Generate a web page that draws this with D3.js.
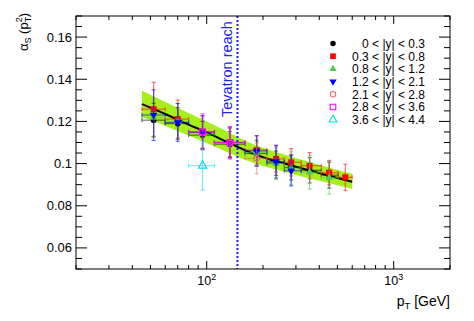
<!DOCTYPE html>
<html>
<head>
<meta charset="utf-8">
<script src="https://cdn.jsdelivr.net/npm/d3@7"></script>
<style>
  body { margin: 0; background: #fff; }
  text { font-family: "Liberation Sans", Arial, Helvetica, sans-serif; }
</style>
</head>
<body>
<div id="chart-div"></div>
<script>
// pT bins (GeV)
const binLow    = [45, 60, 80, 110, 160, 210, 260, 320, 410, 505];
const binHigh   = [60, 80, 110, 160, 210, 260, 320, 410, 505, 600];
const binCenter = [52, 70, 95, 133, 185, 235, 283, 355, 452, 551];

// alpha_s per rapidity bin (null = no point)
const valY0 = [0.1206, 0.1190, 0.1135, 0.1092, 0.1048, 0.1002, 0.0982, 0.0968, 0.0945, null];
const errY0 = [0.0080, 0.0075, 0.0065, 0.0060, 0.0060, 0.0058, 0.0060, 0.0060, 0.0062, null];
const valY1 = [0.1258, 0.1211, 0.1150, 0.1100, 0.1064, 0.1022, 0.1006, 0.0990, 0.0957, 0.0935];
const errY1 = [0.0128, 0.0090, 0.0075, 0.0068, 0.0068, 0.0062, 0.0065, 0.0062, 0.0058, 0.0062];
const valY2 = [0.1218, 0.1200, 0.1140, 0.1095, 0.1052, 0.1000, 0.0978, 0.0959, 0.0933, null];
const errY2 = [0.0090, 0.0085, 0.0075, 0.0070, 0.0065, 0.0075, 0.0078, 0.0080, 0.0078, null];
const valY3 = [0.1230, 0.1195, 0.1148, 0.1100, 0.1060, 0.1009, 0.0966, null, null, null];
const errY3 = [0.0120, 0.0090, 0.0080, 0.0072, 0.0072, 0.0078, 0.0072, null, null, null];
const valY4 = [null, null, null, 0.1098, 0.1025, null, null, null, null, null];
const errY4 = [null, null, null, 0.0078, 0.0072, null, null, null, null, null];
const valY5 = [null, null, 0.1151, 0.1100, null, null, null, null, null, null];
const errY5 = [null, null, 0.0085, 0.0075, null, null, null, null, null, null];
const valY6 = [null, null, 0.0990, null, null, null, null, null, null, null];
const errY6 = [null, null, 0.0115, null, null, null, null, null, null, null];

// theory curve and uncertainty band
const curvePt    = [45, 60, 80, 100, 130, 160, 200, 250, 300, 400, 500, 600];
const curveVal   = [0.1282, 0.1235, 0.1185, 0.1148, 0.1100, 0.1063, 0.1030, 0.1005, 0.0985, 0.0955, 0.0932, 0.0914];
const curveUpper = [0.1345, 0.1292, 0.1240, 0.1200, 0.1150, 0.1110, 0.1075, 0.1048, 0.1027, 0.0995, 0.0970, 0.0952];
const curveLower = [0.1222, 0.1180, 0.1133, 0.1098, 0.1052, 0.1018, 0.0988, 0.0965, 0.0946, 0.0918, 0.0897, 0.0880];

const tevatronReach = 146;

const yTickValues = [0.06, 0.08, 0.10, 0.12, 0.14, 0.16];
const yTickLabels = ["0.06", "0.08", "0.1", "0.12", "0.14", "0.16"];
const xTickValues = [100, 1000];
const xTickExps   = ["2", "3"];

const legendLabels = ["0 < |y| < 0.3", "0.3 < |y| < 0.8", "0.8 < |y| < 1.2", "1.2 < |y| < 2.1",
                      "2.1 < |y| < 2.8", "2.8 < |y| < 3.6", "3.6 < |y| < 4.4"];

const series = [
  { vals: valY0, errs: errY0, color: "#000000", shape: d3.symbolCircle,   size: 26, open: false, rot: 0 },
  { vals: valY1, errs: errY1, color: "#ff0000", shape: d3.symbolSquare,   size: 36, open: false, rot: 0 },
  { vals: valY2, errs: errY2, color: "#55c855", shape: d3.symbolTriangle, size: 26, open: false, rot: 0 },
  { vals: valY3, errs: errY3, color: "#0000ff", shape: d3.symbolTriangle, size: 26, open: false, rot: 180 },
  { vals: valY4, errs: errY4, color: "#f06a6a", shape: d3.symbolCircle,   size: 26, open: true,  rot: 0 },
  { vals: valY5, errs: errY5, color: "#ff00ff", shape: d3.symbolSquare,   size: 34, open: true,  rot: 0 },
  { vals: valY6, errs: errY6, color: "#00e5ee", shape: d3.symbolTriangle, size: 30, open: true,  rot: 0 }
];

// chart
const width = 474, height = 321;
const margin = { top: 16, right: 24, bottom: 52, left: 76 };

const svg = d3.select("#chart-div")
  .append("svg")
  .attr("width", width)
  .attr("height", height);

const x = d3.scaleLog().domain([20, 2000]).range([margin.left, width - margin.right]);
const y = d3.scaleLinear().domain([0.05, 0.17]).range([height - margin.bottom, margin.top]);

const x0 = x.range()[0], x1 = x.range()[1];
const yB = y.range()[0], yT = y.range()[1];

// band
const band = curvePt.map((p, i) => ({ p, lo: curveLower[i], hi: curveUpper[i], v: curveVal[i] }));
svg.append("path")
  .datum(band)
  .attr("d", d3.area().x(d => x(d.p)).y0(d => y(d.lo)).y1(d => y(d.hi)).curve(d3.curveMonotoneX))
  .attr("fill", "#a6ee1c");

svg.append("path")
  .datum(band)
  .attr("d", d3.line().x(d => x(d.p)).y(d => y(d.v)).curve(d3.curveMonotoneX))
  .attr("fill", "none")
  .attr("stroke", "#000")
  .attr("stroke-width", 2);

// Tevatron reach
svg.append("line")
  .attr("x1", x(tevatronReach)).attr("x2", x(tevatronReach))
  .attr("y1", yT).attr("y2", yB)
  .attr("stroke", "#1e1eff")
  .attr("stroke-width", 2)
  .attr("stroke-dasharray", "2,2");

svg.append("text")
  .attr("transform", "translate(" + (x(tevatronReach) - 5) + ",117) rotate(-90)")
  .attr("font-size", 14.5)
  .attr("fill", "#2020ff")
  .text("Tevatron reach");

// data points with error bars
const cap = 2;
series.forEach(s => {
  const pts = binCenter.map((c, i) => ({ c, lo: binLow[i], hi: binHigh[i], v: s.vals[i], e: s.errs[i] }))
    .filter(d => d.v !== null);
  const g = svg.append("g");
  const eb = g.append("g")
    .attr("stroke", s.color)
    .attr("stroke-opacity", 0.55)
    .attr("stroke-width", 1.2);
  pts.forEach(d => {
    const cx = x(d.c), cy = y(d.v);
    const ya = y(d.v + d.e), yb = y(d.v - d.e);
    eb.append("line").attr("x1", x(d.lo)).attr("x2", x(d.hi)).attr("y1", cy).attr("y2", cy);
    eb.append("line").attr("x1", x(d.lo)).attr("x2", x(d.lo)).attr("y1", cy - cap).attr("y2", cy + cap);
    eb.append("line").attr("x1", x(d.hi)).attr("x2", x(d.hi)).attr("y1", cy - cap).attr("y2", cy + cap);
    eb.append("line").attr("x1", cx).attr("x2", cx).attr("y1", ya).attr("y2", yb);
    eb.append("line").attr("x1", cx - cap).attr("x2", cx + cap).attr("y1", ya).attr("y2", ya);
    eb.append("line").attr("x1", cx - cap).attr("x2", cx + cap).attr("y1", yb).attr("y2", yb);
  });
  g.selectAll("path.mk")
    .data(pts)
    .enter()
    .append("path")
    .attr("class", "mk")
    .attr("d", d3.symbol().type(s.shape).size(s.size))
    .attr("transform", d => "translate(" + x(d.c) + "," + y(d.v) + ") rotate(" + s.rot + ")")
    .attr("fill", s.open ? "none" : s.color)
    .attr("stroke", s.open ? s.color : "none")
    .attr("stroke-width", 1.2);
});

// frame and ticks (ROOT style, ticks inside on all sides)
const axes = svg.append("g").attr("stroke", "#000").attr("stroke-width", 1);

y.ticks(24).forEach(t => {
  const major = yTickValues.some(v => Math.abs(v - t) < 1e-6);
  const len = major ? 11 : 6;
  axes.append("line").attr("x1", x0).attr("x2", x0 + len).attr("y1", y(t)).attr("y2", y(t));
  axes.append("line").attr("x1", x1).attr("x2", x1 - len).attr("y1", y(t)).attr("y2", y(t));
});

x.ticks().forEach(t => {
  const major = xTickValues.indexOf(t) >= 0;
  const len = major ? 8 : 4;
  axes.append("line").attr("x1", x(t)).attr("x2", x(t)).attr("y1", yB).attr("y2", yB - len);
  axes.append("line").attr("x1", x(t)).attr("x2", x(t)).attr("y1", yT).attr("y2", yT + len);
});

axes.append("rect")
  .attr("x", x0).attr("y", yT)
  .attr("width", x1 - x0).attr("height", yB - yT)
  .attr("fill", "none");

// tick labels
yTickValues.forEach((v, i) => {
  svg.append("text")
    .attr("x", x0 - 4)
    .attr("y", y(v) + 4.5)
    .attr("text-anchor", "end")
    .attr("font-size", 13)
    .text(yTickLabels[i]);
});

xTickValues.forEach((v, i) => {
  const t = svg.append("text")
    .attr("x", x(v))
    .attr("y", 285)
    .attr("text-anchor", "middle")
    .attr("font-size", 12.5);
  t.append("tspan").text("10");
  t.append("tspan").attr("dy", -5).attr("font-size", 9).text(xTickExps[i]);
});

// axis titles
const xt = svg.append("text")
  .attr("x", x1)
  .attr("y", 306)
  .attr("text-anchor", "end")
  .attr("font-size", 14);
xt.append("tspan").text("p");
xt.append("tspan").attr("dy", 3).attr("font-size", 9.5).text("T");
xt.append("tspan").attr("dy", -3).text(" [GeV]");

const yt = svg.append("text")
  .attr("transform", "translate(28,13) rotate(-90)")
  .attr("text-anchor", "end")
  .attr("font-size", 13);
yt.append("tspan").text("\u03B1");
yt.append("tspan").attr("dy", 3).attr("font-size", 9).text("S");
yt.append("tspan").attr("dy", -3).text(" (p");
yt.append("tspan").attr("dy", 3).attr("font-size", 9).text("T");
yt.append("tspan").attr("dx", -5.5).attr("dy", -9).attr("font-size", 9).text("2");
yt.append("tspan").attr("dy", 6).text(")");

// legend
const legend = svg.append("g");
legendLabels.forEach((label, i) => {
  const s = series[i];
  const ly = 43.5 + i * 12.7;
  legend.append("path")
    .attr("d", d3.symbol().type(s.shape).size(s.size * 0.9))
    .attr("transform", "translate(333," + ly + ") rotate(" + s.rot + ")")
    .attr("fill", s.open ? "none" : s.color)
    .attr("stroke", s.open ? s.color : "none")
    .attr("stroke-width", 1.1);
  legend.append("text")
    .attr("x", 425)
    .attr("y", ly + 4.3)
    .attr("text-anchor", "end")
    .attr("font-size", 12)
    .text(label);
});
</script>
</body>
</html>
